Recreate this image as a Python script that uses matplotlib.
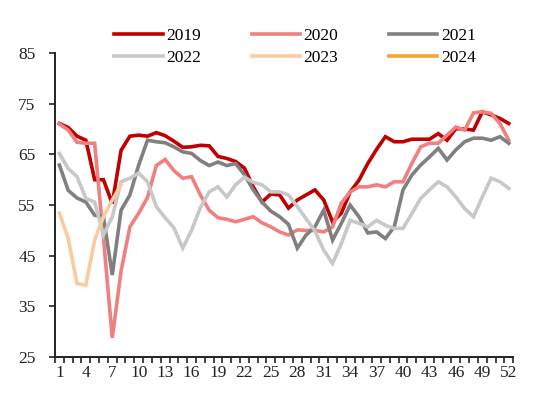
import matplotlib.pyplot as plt
import numpy as np

plt.rcParams['font.family'] = ['Liberation Serif', 'DejaVu Serif']

weeks = list(range(1, 53))

y2019 = [71.1, 70.3, 68.6, 67.8, 60.0, 60.0, 55.3, 65.8, 68.6, 68.8, 68.6, 69.3, 68.7,
         67.6, 66.4, 66.5, 66.8, 66.7, 64.6, 64.2, 63.6, 62.3, 58.6, 55.6, 57.2, 57.0,
         54.4, 56.0, 57.0, 58.0, 56.0, 51.7, 53.4, 57.6, 59.9, 63.2, 66.0, 68.5, 67.5,
         67.5, 68.0, 68.0, 68.0, 69.1, 67.8, 70.1, 70.0, 69.8, 73.4, 72.8, 72.1, 71.1]
y2020 = [71.0, 69.8, 67.4, 67.2, 67.2, 48.5, 28.8, 42.0, 50.7, 53.4, 56.5, 62.8, 64.0,
         61.8, 60.3, 60.6, 57.0, 54.0, 52.5, 52.2, 51.7, 52.2, 52.7, 51.5, 50.7, 49.7,
         49.1, 50.1, 50.0, 50.0, 49.7, 50.7, 55.4, 57.6, 58.6, 58.6, 59.0, 58.6, 59.6,
         59.6, 63.2, 66.5, 67.2, 67.2, 68.8, 70.4, 69.8, 73.2, 73.4, 73.1, 71.1, 67.8]
y2021 = [62.9, 57.9, 56.4, 55.6, 53.0, 52.7, 41.2, 54.0, 57.0, 62.9, 67.8, 67.5, 67.3,
         66.5, 65.5, 65.2, 63.8, 62.8, 63.5, 62.8, 63.2, 61.0, 58.0, 55.6, 53.8, 52.7,
         51.2, 46.5, 49.1, 50.7, 54.0, 48.1, 51.4, 55.0, 52.7, 49.5, 49.7, 48.4, 50.7,
         58.0, 60.9, 62.9, 64.5, 66.2, 63.9, 65.9, 67.5, 68.2, 68.2, 67.8, 68.5, 67.2]
y2022 = [65.2, 62.2, 60.6, 56.3, 55.6, 49.1, 52.7, 59.6, 60.3, 61.3, 59.6, 54.7, 52.5,
         50.5, 46.5, 50.0, 54.5, 57.6, 58.6, 56.6, 59.0, 60.5, 59.5, 59.0, 57.6, 57.6,
         57.0, 54.7, 52.3, 49.9, 46.1, 43.5, 47.4, 52.0, 51.4, 50.7, 52.0, 51.0, 50.4,
         50.4, 53.3, 56.3, 58.0, 59.6, 58.6, 56.6, 54.3, 52.7, 56.6, 60.3, 59.6, 58.3]
y2023 = [53.4, 48.4, 39.5, 39.2, 48.1, 52.7, 56.0, 59.0]
y2024 = []

series = [('2019', y2019, '#C00000'), ('2020', y2020, '#F08080'),
          ('2021', y2021, '#808080'), ('2022', y2022, '#C8C8C8'),
          ('2023', y2023, '#F8CBA0'), ('2024', y2024, '#F0A830')]

fig = plt.figure(figsize=(5.5, 3.99), dpi=100)
ax = fig.add_axes([0.1, 0.105, 0.833, 0.762])

# 画线
lines = {}
for name, vals, c in series:
    ln, = ax.plot(weeks[:len(vals)], vals, color=c, lw=2.6, label=name, solid_joinstyle='miter')
    lines[name] = ln

ax.set_xlim(0.5, 52.5)
ax.set_ylim(25, 85)
ax.set_yticks(range(25, 86, 10))
ax.set_xticks(weeks[::3])
ax.set_xticks(np.arange(0.5, 53, 1), minor=True)
ax.tick_params(axis='x', which='major', length=0, pad=6, labelsize=12.5)
ax.tick_params(axis='x', which='minor', length=4, width=1.2, direction='out')
ax.tick_params(axis='y', length=4, width=1.2, labelsize=12.5, pad=10)
ax.tick_params(colors='#222222', which='both')
for s in ['top', 'right']:
    ax.spines[s].set_visible(False)
for s in ['left', 'bottom']:
    ax.spines[s].set_linewidth(1.4)
    ax.spines[s].set_color('#222222')

# 图例按行排列：legend 是按列填充的，所以调一下顺序
order = ['2019', '2022', '2020', '2023', '2021', '2024']
fig.legend([lines[k] for k in order], order, loc='upper left', bbox_to_anchor=(0.195, 0.948),
           ncol=3, frameon=False, fontsize=12.5, handlelength=2.8, handletextpad=0.2,
           columnspacing=2.9, labelspacing=0.35, borderaxespad=0)

fig.savefig('out.png', dpi=100)
